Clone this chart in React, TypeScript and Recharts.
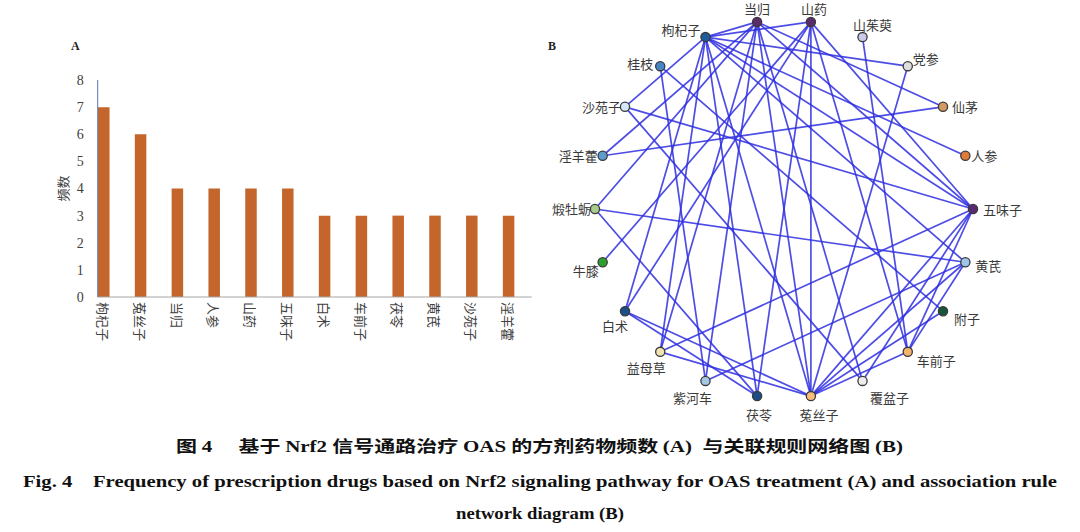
import React from 'react';
import { BarChart, Bar, XAxis, YAxis, ScatterChart, Scatter, Label } from 'recharts';

// Panel A: herb frequency
const herbs = ['枸杞子', '菟丝子', '当归', '人参', '山药', '五味子', '白术', '车前子', '茯苓', '黄芪', '沙苑子', '淫羊藿'];
const frequency = [7, 6, 4, 4, 4, 4, 3, 3, 3, 3, 3, 3];
const yTicks = [0, 1, 2, 3, 4, 5, 6, 7, 8];

// Panel B: association rule network (circle layout, clockwise from top)
const networkNodes = [
  '山药', '山茱萸', '党参', '仙茅', '人参', '五味子', '黄芪', '附子', '车前子', '覆盆子', '菟丝子',
  '茯苓', '紫河车', '益母草', '白术', '牛膝', '煅牡蛎', '淫羊藿', '沙苑子', '桂枝', '枸杞子', '当归',
];

const networkEdges: [string, string][] = [
  ['枸杞子', '当归'], ['枸杞子', '山药'], ['枸杞子', '党参'], ['枸杞子', '人参'],
  ['枸杞子', '五味子'], ['枸杞子', '黄芪'], ['枸杞子', '菟丝子'], ['枸杞子', '茯苓'],
  ['枸杞子', '益母草'], ['枸杞子', '白术'], ['枸杞子', '沙苑子'],
  ['当归', '仙茅'], ['当归', '五味子'], ['当归', '覆盆子'], ['当归', '菟丝子'],
  ['当归', '紫河车'], ['当归', '益母草'], ['当归', '煅牡蛎'], ['当归', '淫羊藿'],
  ['山药', '五味子'], ['山药', '车前子'], ['山药', '菟丝子'], ['山药', '茯苓'],
  ['山药', '白术'], ['山药', '牛膝'],
  ['山茱萸', '车前子'], ['党参', '菟丝子'], ['仙茅', '淫羊藿'],
  ['五味子', '沙苑子'], ['五味子', '益母草'], ['五味子', '菟丝子'], ['五味子', '覆盆子'], ['五味子', '车前子'],
  ['黄芪', '煅牡蛎'], ['黄芪', '紫河车'], ['黄芪', '菟丝子'], ['黄芪', '车前子'],
  ['附子', '桂枝'], ['附子', '菟丝子'],
  ['菟丝子', '车前子'], ['菟丝子', '白术'], ['菟丝子', '益母草'],
  ['茯苓', '白术'], ['茯苓', '煅牡蛎'],
  ['覆盆子', '沙苑子'], ['紫河车', '桂枝'],
];

const NODE_COLORS: Record<string, string> = {
  山药: '#5b2a6e', 山茱萸: '#c9cbe8', 党参: '#dedede', 仙茅: '#d39a62', 人参: '#e07b39',
  五味子: '#5a2a70', 黄芪: '#9ec6ea', 附子: '#17563a', 车前子: '#f6b46a', 覆盆子: '#ececec',
  菟丝子: '#f8bd7a', 茯苓: '#1c4f87', 紫河车: '#a6c6e6', 益母草: '#efe4b0', 白术: '#1b4f86',
  牛膝: '#2ca02c', 煅牡蛎: '#a8cc88', 淫羊藿: '#5e9bd0', 沙苑子: '#d2e8f8', 桂枝: '#4786c6',
  枸杞子: '#1f5c9c', 当归: '#5c2b6e',
};

// label placement relative to node: dx, dy (baseline), anchor
const LABEL_POS: Record<string, [number, number, string]> = {
  山药: [3, -8, 'middle'], 山茱萸: [10, -7, 'middle'], 党参: [5, -2, 'start'], 仙茅: [9, 5, 'start'],
  人参: [6, 5, 'start'], 五味子: [10, 6, 'start'], 黄芪: [10, 9, 'start'], 附子: [11, 13, 'start'],
  车前子: [9, 14, 'start'], 覆盆子: [27, 22, 'middle'], 菟丝子: [8, 24, 'middle'], 茯苓: [2, 24, 'middle'],
  紫河车: [-13, 22, 'middle'], 益母草: [-14, 21, 'middle'], 白术: [-10, 20, 'middle'], 牛膝: [-4, 14, 'end'],
  煅牡蛎: [-4, 5, 'end'], 淫羊藿: [-5, 5, 'end'], 沙苑子: [-4, 5, 'end'], 桂枝: [-7, 3, 'end'],
  枸杞子: [-5, -2, 'end'], 当归: [0, -8, 'middle'],
};

const CJK = '"Noto Sans CJK SC", sans-serif';
const SERIF = '"Liberation Serif", "Times New Roman", serif';
const BAR_COLOR = '#c4652b';
const EDGE_COLOR = '#2e2ee0';

const barData = herbs.map((name, i) => ({ pos: i, name, value: frequency[i] }));

// circle layout (chart units = px inside the network chart)
const CX = 244;
const CY = 209;
const R = 189;
const step = 360 / networkNodes.length;
const nodePoints = networkNodes.map((name, i) => {
  const a = ((step / 2 + step * i) * Math.PI) / 180;
  return { name, x: CX + R * Math.sin(a), y: CY - R * Math.cos(a) };
});
const nodeByName: Record<string, { x: number; y: number }> = {};
nodePoints.forEach((p) => (nodeByName[p.name] = p));

const HerbTick = (props: any) => {
  const { x, y, payload } = props;
  return (
    <text
      transform={`translate(${x},${y - 3}) rotate(90)`}
      textAnchor="start"
      dominantBaseline="central"
      fontSize={13}
      fontFamily={CJK}
      fill="#404040"
    >
      {herbs[payload.value]}
    </text>
  );
};

const NodeShape = (props: any) => {
  const { cx, cy, payload } = props;
  const [dx, dy, anchor] = LABEL_POS[payload.name] || [0, 0, 'middle'];
  return (
    <g>
      <circle cx={cx} cy={cy} r={4.6} fill={NODE_COLORS[payload.name]} stroke="#3a3a3a" strokeWidth={1.3} />
      <text x={cx + dx} y={cy + dy} textAnchor={anchor as any} fontSize={13} fontFamily={CJK} fill="#3a3a3a">
        {payload.name}
      </text>
    </g>
  );
};

const noShape = () => <g />;

export default function App() {
  return (
    <div style={{ position: 'absolute', left: 0, top: 0, width: 1080, height: 532, background: '#fff', overflow: 'hidden' }}>
      {/* panel A */}
      <div style={{ position: 'absolute', left: 0, top: 0 }}>
        <BarChart width={560} height={370} data={barData} margin={{ top: 80, right: 28.3, bottom: 13, left: 57.7 }}>
          <XAxis
            type="number"
            dataKey="pos"
            domain={[-0.156, 11.637]}
            ticks={[0, 1, 2, 3, 4, 5, 6, 7, 8, 9, 10, 11]}
            tick={<HerbTick />}
            tickLine={false}
            height={60}
            stroke="#a6a6a6"
            interval={0}
          />
          <YAxis
            type="number"
            domain={[0, 8]}
            ticks={yTicks}
            width={40}
            tickLine={false}
            tickSize={6}
            tickMargin={8}
            stroke="#5677a8"
            tick={{ fontSize: 14, fontFamily: SERIF, fill: '#404040' }}
            interval={0}
          >
            <Label value="频数" angle={-90} position="insideLeft" offset={6} textAnchor="middle"
              style={{ fontSize: 13, fontFamily: CJK, fill: '#404040' }} />
          </YAxis>
          <Bar dataKey="value" fill={BAR_COLOR} barSize={11.5} isAnimationActive={false} />
        </BarChart>
      </div>

      {/* panel B */}
      <div style={{ position: 'absolute', left: 540, top: 0 }}>
        <ScatterChart width={540} height={430} margin={{ top: 0, right: 0, bottom: 0, left: 0 }}>
          <XAxis type="number" dataKey="x" domain={[0, 540]} hide />
          <YAxis type="number" dataKey="y" domain={[0, 430]} reversed hide />
          {networkEdges.map(([a, b], i) => (
            <Scatter
              key={`edge-${i}`}
              data={[nodeByName[a], nodeByName[b]]}
              line={{ stroke: EDGE_COLOR, strokeWidth: 1.7, strokeOpacity: 0.85 }}
              shape={noShape}
              isAnimationActive={false}
            />
          ))}
          <Scatter data={nodePoints} shape={<NodeShape />} isAnimationActive={false} />
        </ScatterChart>
      </div>

      {/* panel letters and captions */}
      <svg width={1080} height={532} style={{ position: 'absolute', left: 0, top: 0, pointerEvents: 'none' }}>
        <text x={71} y={50} fontSize={12} fontWeight={700} fontFamily={SERIF} fill="#222">A</text>
        <text x={548} y={50} fontSize={12} fontWeight={700} fontFamily={SERIF} fill="#222">B</text>
        <text x={176} y={452} fontSize={16} fontWeight={700} fill="#111" textLength={727} lengthAdjust="spacingAndGlyphs" style={{ whiteSpace: 'pre' }}>
          <tspan fontFamily={CJK}>图 </tspan>
          <tspan fontFamily={SERIF}>4     </tspan>
          <tspan fontFamily={CJK}>基于 </tspan>
          <tspan fontFamily={SERIF}>Nrf2 </tspan>
          <tspan fontFamily={CJK}>信号通路治疗 </tspan>
          <tspan fontFamily={SERIF}>OAS </tspan>
          <tspan fontFamily={CJK}>的方剂药物频数 </tspan>
          <tspan fontFamily={SERIF}>(A)  </tspan>
          <tspan fontFamily={CJK}>与关联规则网络图 </tspan>
          <tspan fontFamily={SERIF}>(B)</tspan>
        </text>
        <text x={23} y={487} fontSize={17} fontWeight={700} fontFamily={SERIF} fill="#111" textLength={1034} lengthAdjust="spacingAndGlyphs" style={{ whiteSpace: 'pre' }}>
          {'Fig. 4    Frequency of prescription drugs based on Nrf2 signaling pathway for OAS treatment (A) and association rule'}
        </text>
        <text x={540} y={519} fontSize={17} fontWeight={700} fontFamily={SERIF} fill="#111" textAnchor="middle" textLength={168} lengthAdjust="spacingAndGlyphs">
          network diagram (B)
        </text>
      </svg>
    </div>
  );
}
